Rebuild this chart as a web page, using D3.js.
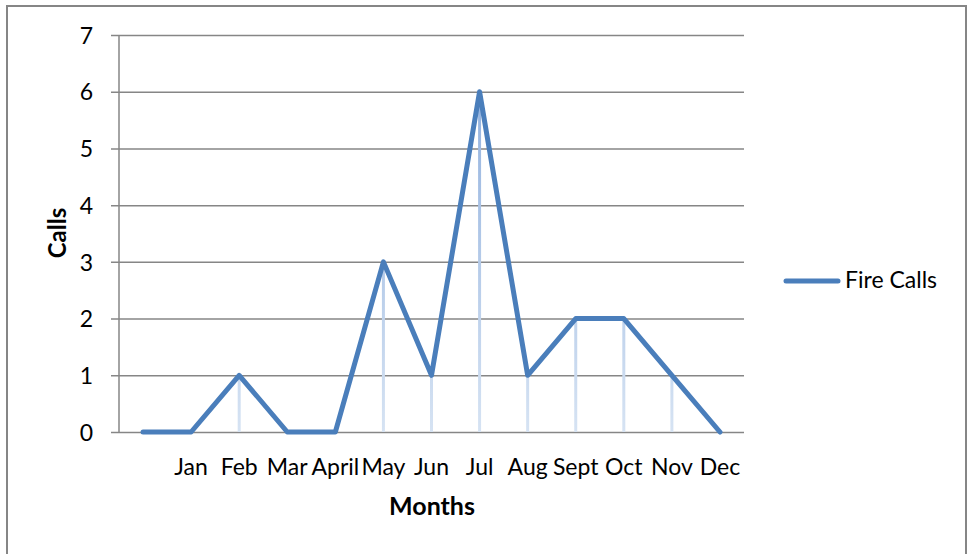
<!DOCTYPE html>
<html><head><meta charset="utf-8">
<script src="https://cdn.jsdelivr.net/npm/d3@7"></script>
<style>
html,body{margin:0;padding:0;background:#fff;}
svg{display:block;font-family:Lato,"Open Sans",sans-serif;}
</style></head>
<body>
<svg id="chart" width="969" height="554"></svg>
<script>
const categories = ["", "Jan", "Feb", "Mar", "April", "May", "Jun", "Jul", "Aug", "Sept", "Oct", "Nov", "Dec"];
const fireCalls = [0, 0, 1, 0, 0, 3, 1, 6, 1, 2, 2, 1, 0];
const yTicks = [0, 1, 2, 3, 4, 5, 6, 7];
const seriesName = "Fire Calls";

(function () {
const svg = d3.select("#chart");
const pLeft = 119, pRight = 744, pTop = 35, pBottom = 432;
const fs = 23;

// outer frame
svg.append("rect").attr("x", 7).attr("y", 6).attr("width", 959).attr("height", 560)
  .attr("fill", "#fff").attr("stroke", "#868686").attr("stroke-width", 2);

const x = d3.scaleBand().domain(categories.map((c, i) => i)).range([pLeft, pRight]).padding(0);
const y = d3.scaleLinear().domain([0, 7]).range([pBottom, pTop]);
const cx = i => x(i) + x.bandwidth() / 2;

// gridlines + y axis via d3.axisLeft
const yAxis = d3.axisLeft(y).tickValues(yTicks).tickSize(0).tickPadding(0).tickFormat("");
const gy = svg.append("g").attr("transform", `translate(${pLeft},0)`).call(yAxis);
gy.select(".domain").remove();
gy.selectAll(".tick line").attr("x1", -8).attr("x2", pRight - pLeft)
  .attr("stroke", "#868686").attr("stroke-width", 1.5);
gy.selectAll(".tick").append("text")
  .attr("x", -26).attr("dy", "0.36em").attr("text-anchor", "end")
  .attr("fill", "#000").attr("font-size", fs).attr("font-family", "Lato, sans-serif").text(d => d);

svg.append("line").attr("x1", pLeft).attr("x2", pLeft).attr("y1", pTop).attr("y2", pBottom)
  .attr("stroke", "#868686").attr("stroke-width", 1.5);

// x labels
const xAxis = d3.axisBottom(x).tickSize(0).tickFormat(i => categories[i]);
const gx = svg.append("g").attr("transform", `translate(0,${pBottom})`).call(xAxis);
gx.select(".domain").remove();
gx.selectAll(".tick text").attr("font-size", fs).attr("fill", "#000")
  .attr("font-family", "Lato, sans-serif").attr("y", 0).attr("dy", 43);

// gradient for drop lines
const defs = svg.append("defs");
const grad = defs.append("linearGradient").attr("id", "dropGrad")
  .attr("gradientUnits", "userSpaceOnUse")
  .attr("x1", 0).attr("x2", 0).attr("y1", pTop).attr("y2", pBottom);
grad.append("stop").attr("offset", "0%").attr("stop-color", "#88aadb");
grad.append("stop").attr("offset", "100%").attr("stop-color", "#d6e3f3");

// drop lines
svg.append("g").selectAll("line").data(fireCalls).join("line")
  .attr("x1", (d, i) => cx(i)).attr("x2", (d, i) => cx(i))
  .attr("y1", d => y(d)).attr("y2", pBottom)
  .attr("stroke", "url(#dropGrad)").attr("stroke-width", 3)
  .attr("display", d => d > 0 ? null : "none");

// series line
const line = d3.line().x((d, i) => cx(i)).y(d => y(d));
svg.append("path").datum(fireCalls).attr("d", line)
  .attr("fill", "none").attr("stroke", "#4a7ebb").attr("stroke-width", 5)
  .attr("stroke-linejoin", "round").attr("stroke-linecap", "round");

// axis titles
svg.append("text").attr("x", 432).attr("y", 515).attr("text-anchor", "middle")
  .attr("font-size", 25).attr("font-weight", "bold").text("Months");
svg.append("text").attr("transform", "translate(66,233) rotate(-90)").attr("text-anchor", "middle")
  .attr("font-size", 24).attr("font-weight", "bold").text("Calls");

// legend
svg.append("line").attr("x1", 786).attr("x2", 838).attr("y1", 281).attr("y2", 281)
  .attr("stroke", "#4a7ebb").attr("stroke-width", 5).attr("stroke-linecap", "round");
svg.append("text").attr("x", 845).attr("y", 288).attr("font-size", fs).text(seriesName);
})();
</script>
</body></html>
